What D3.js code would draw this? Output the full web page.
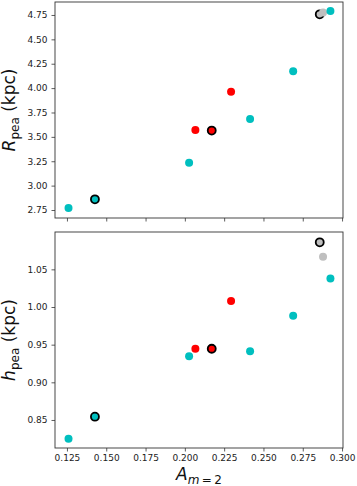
<!DOCTYPE html>
<html>
<head>
<meta charset="utf-8">
<script src="https://cdn.jsdelivr.net/npm/d3@7/dist/d3.min.js"></script>
<style>
  body { margin: 0; background: #fff; }
  text { font-family: "DejaVu Sans", sans-serif; }
</style>
</head>
<body>
<div id="chart"></div>
<script>
// valeurs
const am2   = [0.1260, 0.1428, 0.2027, 0.2067, 0.2171, 0.2294, 0.2415, 0.2689, 0.2858, 0.2879, 0.2926];
const rPea  = [2.771, 2.860, 3.235, 3.570, 3.565, 3.963, 3.683, 4.172, 4.757, 4.775, 4.790];
const hPea  = [0.8252, 0.8544, 0.9345, 0.9446, 0.9446, 1.0079, 0.9411, 0.9884, 1.0859, 1.0668, 1.0380];
const group = ["c", "c", "c", "r", "r", "r", "c", "c", "g", "g", "c"];
const edged = [false, true, false, false, true, false, false, false, true, false, false];

const xTicks = [0.125, 0.150, 0.175, 0.200, 0.225, 0.250, 0.275, 0.300];
const rTicks = [2.75, 3.00, 3.25, 3.50, 3.75, 4.00, 4.25, 4.50, 4.75];
const hTicks = [0.85, 0.90, 0.95, 1.00, 1.05];

const colors = { c: "#00bfbf", r: "#ff0000", g: "#bfbfbf" };

const width = 357, height = 486;
const left = 55, right = 343;

const svg = d3.select("#chart").append("svg")
    .attr("width", width)
    .attr("height", height);

const x = d3.scaleLinear().domain([0.1174, 0.3006]).range([left, right]);

const points = am2.map((d, i) => ({ x: d, r: rPea[i], h: hPea[i], g: group[i], e: edged[i] }));
// les points entourés d'abord, les autres par-dessus
const ordered = points.filter(p => p.e).concat(points.filter(p => !p.e));

function panel(top, bottom, yDomain, yTicks, key, labelLetter, showX) {
    const y = d3.scaleLinear().domain(yDomain).range([bottom, top]);
    const g = svg.append("g");

    const xAxis = d3.axisBottom(x).tickValues(xTicks).tickSize(3.5).tickPadding(3.5)
        .tickFormat(showX ? d3.format(".3f") : "");
    g.append("g").attr("transform", `translate(0,${bottom})`).call(xAxis);

    const yAxis = d3.axisLeft(y).tickValues(yTicks).tickSize(3.5).tickPadding(4)
        .tickFormat(d3.format(".2f"));
    g.append("g").attr("transform", `translate(${left},0)`).call(yAxis);

    g.selectAll(".domain").remove();
    g.selectAll(".tick line").attr("stroke", "#333").attr("stroke-width", 0.8);
    g.selectAll(".tick text").attr("fill", "#222").style("font-size", "9px")
        .style("font-family", "DejaVu Sans, sans-serif");

    g.append("rect")
        .attr("x", left).attr("y", top)
        .attr("width", right - left).attr("height", bottom - top)
        .attr("fill", "none").attr("stroke", "#333").attr("stroke-width", 0.9);

    g.selectAll("circle")
        .data(ordered)
        .join("circle")
        .attr("cx", d => x(d.x))
        .attr("cy", d => y(d[key]))
        .attr("r", 4)
        .attr("fill", d => colors[d.g])
        .attr("stroke", d => d.e ? "#000" : "none")
        .attr("stroke-width", 1.8);

    const lab = g.append("text")
        .attr("transform", `translate(15,${(top + bottom) / 2}) rotate(-90)`)
        .attr("text-anchor", "middle")
        .style("font-size", "17px")
        .attr("fill", "#111");
    lab.append("tspan").style("font-style", "italic").text(labelLetter);
    lab.append("tspan").attr("dy", 4).style("font-size", "12px").text("pea");
    lab.append("tspan").attr("dy", -4).text(" (kpc)");
}

panel(2, 218, [2.668, 4.883], rTicks, "r", "R", false);
panel(232, 448, [0.8128, 1.0996], hTicks, "h", "h", true);

const xl = svg.append("text")
    .attr("x", 199).attr("y", 480)
    .attr("text-anchor", "middle")
    .style("font-size", "17px")
    .attr("fill", "#111");
xl.append("tspan").style("font-style", "italic").text("A");
xl.append("tspan").attr("dy", 4).style("font-size", "12px")
    .style("font-style", "italic").text("m");
xl.append("tspan").attr("dy", 0).style("font-size", "12px").text("\u2009=\u20092");
</script>
</body>
</html>
